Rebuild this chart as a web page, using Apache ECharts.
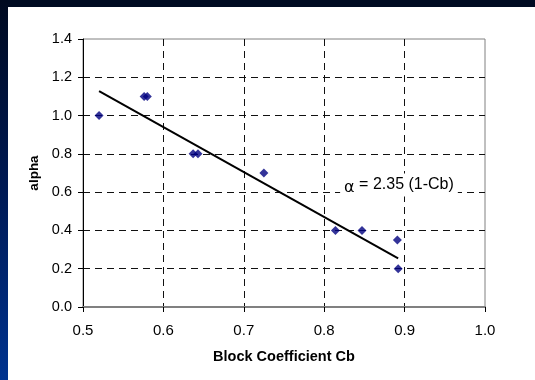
<!DOCTYPE html>
<html>
<head>
<meta charset="utf-8">
<script src="https://cdn.jsdelivr.net/npm/echarts@6/dist/echarts.min.js"></script>
<style>
  html, body { margin: 0; padding: 0; background: #fff; }
  #main { width: 535px; height: 380px; }
</style>
</head>
<body>
<div id="main"></div>
<script>
// measured points (Cb, alpha)
var cbValues = [0.520, 0.576, 0.580, 0.637, 0.643, 0.725, 0.814, 0.847, 0.891, 0.892];
var alphaValues = [1.0, 1.1, 1.1, 0.8, 0.8, 0.7, 0.4, 0.4, 0.35, 0.2];

// fitted line alpha = 2.35 (1-Cb), ends as drawn
var fitCb = [0.520, 0.892];
var fitAlpha = [1.128, 0.254];

var xTicks = [0.5, 0.6, 0.7, 0.8, 0.9, 1.0];
var yTicks = [0.0, 0.2, 0.4, 0.6, 0.8, 1.0, 1.2, 1.4];

var points = cbValues.map(function (v, i) { return [v, alphaValues[i]]; });
var fitLine = fitCb.map(function (v, i) { return [v, fitAlpha[i]]; });

var myChart = echarts.init(document.getElementById('main'));

var dash = { color: '#111', width: 1, type: [7, 5] };
var font = '"Liberation Sans", Arial, sans-serif';

myChart.setOption({
    backgroundColor: '#fff',
    animation: false,
    textStyle: { fontFamily: font },
    grid: {
        left: 83, top: 39, width: 402, height: 268,
        show: true, borderColor: '#808080', borderWidth: 1,
        backgroundColor: 'transparent'
    },
    xAxis: {
        type: 'value',
        min: xTicks[0], max: xTicks[xTicks.length - 1], interval: 0.1,
        name: 'Block Coefficient Cb',
        nameLocation: 'middle', nameGap: 42,
        nameTextStyle: { fontSize: 14.5, fontWeight: 'bold', color: '#000', fontFamily: font },
        axisLine: { lineStyle: { color: '#808080', width: 2 } },
        axisTick: { show: true, inside: false, length: 5, lineStyle: { color: '#000', width: 1 } },
        axisLabel: { fontSize: 15, color: '#000', margin: 16, fontFamily: font,
            formatter: function (v) { return v.toFixed(1); } },
        splitLine: { show: true, showMinLine: false, showMaxLine: false, lineStyle: dash }
    },
    yAxis: {
        type: 'value',
        min: yTicks[0], max: yTicks[yTicks.length - 1], interval: 0.2,
        name: 'alpha',
        nameLocation: 'middle', nameGap: 39,
        nameTextStyle: { fontSize: 13.5, fontWeight: 'bold', color: '#000', fontFamily: font },
        axisLine: { show: true, lineStyle: { color: '#000', width: 1 } },
        axisTick: { show: true, inside: false, length: 5, lineStyle: { color: '#000', width: 1 } },
        axisLabel: { fontSize: 14.5, color: '#000', margin: 11, fontFamily: font,
            formatter: function (v) { return v.toFixed(1); } },
        splitLine: { show: true, showMinLine: false, showMaxLine: false, lineStyle: dash }
    },
    graphic: [
        { type: 'rect', left: 0, top: 0, shape: { width: 535, height: 7 },
          style: { fill: '#000b22' }, silent: true },
        { type: 'rect', left: 0, top: 0, shape: { width: 8, height: 380 },
          style: { fill: new echarts.graphic.LinearGradient(0, 0, 0, 1, [
              { offset: 0, color: '#000a20' },
              { offset: 0.5, color: '#001a55' },
              { offset: 1, color: '#00338f' }
          ]) }, silent: true }
    ],
    series: [
        {
            type: 'line',
            data: fitLine,
            symbol: 'none',
            lineStyle: { color: '#000', width: 2 },
            z: 3,
            markPoint: {
                symbol: 'rect', symbolSize: 1,
                itemStyle: { color: 'rgba(0,0,0,0)' },
                data: [{ coord: [0.893, 0.637] }],
                label: {
                    show: true, position: 'inside',
                    formatter: '{a|α} = 2.35 (1-Cb)',
                    fontSize: 16, color: '#000', fontFamily: font,
                    backgroundColor: '#fff', padding: [1, 4, 1, 4],
                    rich: { a: { fontSize: 16, fontFamily: '"DejaVu Sans", sans-serif', color: '#000', padding: [5, 0, 0, 0] } }
                }
            }
        },
        {
            type: 'scatter',
            data: points,
            symbol: 'diamond',
            symbolSize: 9,
            itemStyle: { color: '#000080' },
            z: 4
        }
    ]
});
</script>
</body>
</html>
